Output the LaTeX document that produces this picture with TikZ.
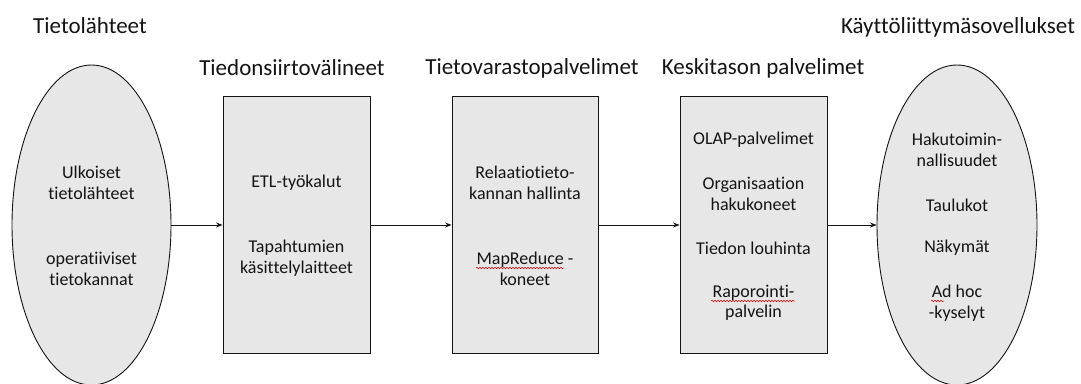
\documentclass[tikz,border=0pt]{standalone}
\usepackage{fontspec}
\setmainfont{Carlito}[Ligatures=NoCommon]
\usetikzlibrary{arrows.meta,shapes.geometric,decorations.pathmorphing}
\definecolor{boxfill}{RGB}{231,231,231}
\definecolor{ink}{RGB}{20,20,20}
\tikzset{
  title/.style={font=\fontsize{23}{26}\selectfont, text=ink, anchor=center, inner sep=0pt},
  inner/.style={font=\fontsize{18}{20.5}\selectfont, text=ink, align=center, inner sep=0pt},
  stagebox/.style={draw=ink, line width=0.9pt, fill=boxfill, rectangle, inner sep=0pt},
  stageell/.style={draw=ink, line width=0.9pt, fill=boxfill, ellipse, inner sep=0pt},
  flow/.style={draw=ink, line width=0.9pt, -{Stealth[length=6.5pt,width=5pt]}},
  spell/.style={draw=red!85!black, line width=0.5pt, decorate, decoration={snake, amplitude=0.8pt, segment length=3pt}}
}
\begin{document}
\begin{tikzpicture}[x=1pt,y=-1pt]
\useasboundingbox (0,0) rectangle (1081,383);
% titles
\node[title] (t1) at (90,26) {Tietolähteet};
\node[title] (t2) at (292,68) {Tiedonsiirtovälineet};
\node[title] (t3) at (532,68) {Tietovarastopalvelimet};
\node[title] (t4) at (763,68) {Keskitason palvelimet};
\node[title] (t5) at (958,27) {Käyttöliittymäsovellukset};
% shapes
\node[stageell, minimum width=159pt, minimum height=320pt] (e1) at (91.5,225) {};
\node[stagebox, minimum width=147pt, minimum height=257pt] (b1) at (296.5,225) {};
\node[stagebox, minimum width=146pt, minimum height=257pt] (b2) at (525,225) {};
\node[stagebox, minimum width=147pt, minimum height=257pt] (b3) at (753.5,225) {};
\node[stageell, minimum width=160pt, minimum height=320pt] (e2) at (957,225) {};
% connectors
\draw[flow] (e1.east) -- (b1.west);
\draw[flow] (b1.east) -- (b2.west);
\draw[flow] (b2.east) -- (b3.west);
\draw[flow] (b3.east) -- (e2.west);
% texts
\node[inner] (s1) at (91.5,183) {Ulkoiset\\tietolähteet};
\node[inner] (s2) at (91.5,269) {operatiiviset\\tietokannat};
\node[inner] (m1) at (296.5,183) {ETL-työkalut};
\node[inner] (m2) at (296.5,258) {Tapahtumien\\käsittelylaitteet};
\node[inner] (w1) at (525,183) {Relaatiotieto-\\kannan hallinta};
\node[inner] (w2) at (525,269) {MapReduce -\\koneet};
\node[inner] (k1) at (753.5,140) {OLAP-palvelimet};
\node[inner] (k2) at (753.5,194) {Organisaation\\hakukoneet};
\node[inner] (k3) at (753.5,248) {Tiedon louhinta};
\node[inner] (k4) at (753.5,303) {Raporointi-\\palvelin};
\node[inner] (u1) at (957,150) {Hakutoimin-\\nallisuudet};
\node[inner] (u2) at (957,205) {Taulukot};
\node[inner] (u3) at (957,248) {Näkymät};
\node[inner] (u4) at (957,303) {Ad hoc\\-kyselyt};
% spell-check squiggles
\draw[spell] (476,268) -- (564,268);
\draw[spell] (711,301) -- (795,301);
\draw[spell] (931,301) -- (944,301);
\end{tikzpicture}
\end{document}
